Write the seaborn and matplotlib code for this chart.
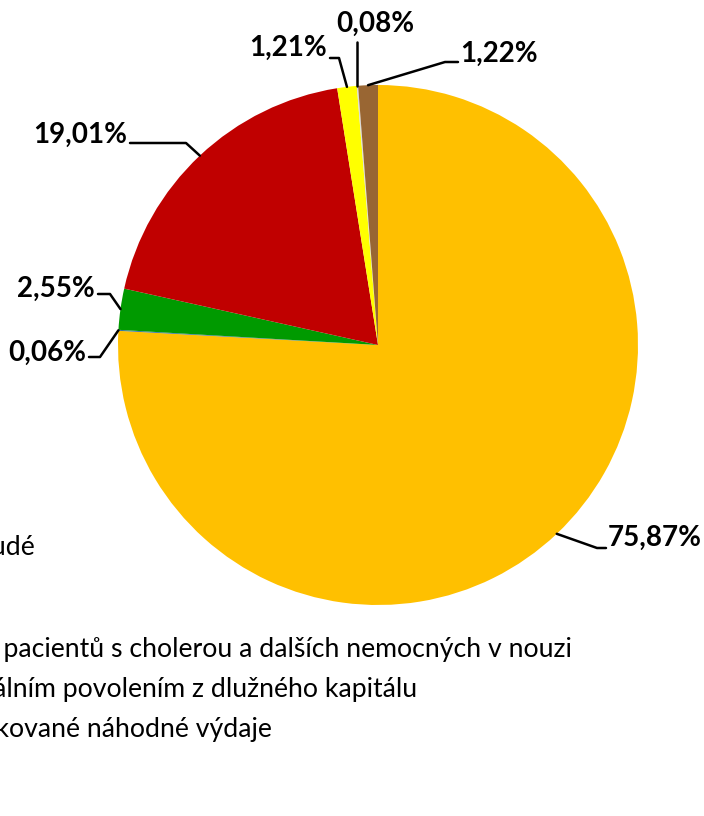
import numpy as np
import matplotlib
matplotlib.use('Agg')
import matplotlib.pyplot as plt
import seaborn as sns

# Data (clockwise from 12 o'clock)
shares = [75.87, 0.06, 2.55, 19.01, 1.21, 0.08, 1.22]
labels = ['75,87%', '0,06%', '2,55%', '19,01%', '1,21%', '0,08%', '1,22%']
colors = ['#FFC000', '#2E6FA8', '#009A00', '#C00000', '#FFFF00', '#D9D9D9', '#996633']

# Legend text (the left part falls outside the picture)
legend_lines = [
    'Výdaje na chudé',
    'Náklady na ošetření pacientů s cholerou a dalších nemocných v nouzi',
    'Výdaje se speciálním povolením z dlužného kapitálu',
    'Nespecifikované náhodné výdaje',
]

sns.set_theme(style='white')
plt.rcParams['font.family'] = ['Lato', 'DejaVu Sans']

W, H = 704, 816
cx, cy, R = 378, 345, 260

fig = plt.figure(figsize=(W / 100, H / 100), dpi=100)
ax = fig.add_axes([(cx - R) / W, 1 - (cy + R) / H, 2 * R / W, 2 * R / H])

wedges, _ = ax.pie(shares, colors=colors, startangle=90, counterclock=False,
                   radius=1, wedgeprops=dict(linewidth=0))
ax.set_xlim(-1, 1)
ax.set_ylim(-1, 1)
ax.set_aspect('auto')
ax.axis('off')


def px(x, y):
    # pixel position -> data coords
    return ((x - cx) / R, (cy - y) / R)


# label layout: elbow point, end of tail, text anchor, alignment
layout = [
    ((597, 548), (606, 548), (608, 538), 'left'),
    ((100, 357), (89, 357), (86, 353), 'right'),
    ((110, 294), (98, 294), (95, 289), 'right'),
    ((186, 143), (130, 143), (127, 135), 'right'),
    ((339, 58), (330, 58), (327, 48), 'right'),
    (None, None, (375, 24), 'center'),
    ((445, 62), (458, 62), (460, 54), 'left'),
]

for w, lab, (elbow, tail, txt, ha) in zip(wedges, labels, layout):
    mid = np.deg2rad((w.theta1 + w.theta2) / 2)
    x0, y0 = np.cos(mid), np.sin(mid)
    if elbow is None:
        xs, ys = [x0, x0], [y0, px(0, 42)[1]]
    else:
        e, t = px(*elbow), px(*tail)
        xs, ys = [x0, e[0], t[0]], [y0, e[1], t[1]]
    ax.plot(xs, ys, color='black', lw=1.8, clip_on=False)
    tx, ty = px(*txt)
    ax.text(tx, ty, lab, ha=ha, va='center', fontsize=20, fontweight='bold',
            color='black', clip_on=False)

legend_ends = [(35, 548), (572, 650), (417, 689), (272, 730)]
for line, (x, y) in zip(legend_lines, legend_ends):
    fig.text(x / W, 1 - y / H, line, ha='right', va='center', fontsize=19.2,
             color='black')

fig.savefig('out.png', dpi=100)
